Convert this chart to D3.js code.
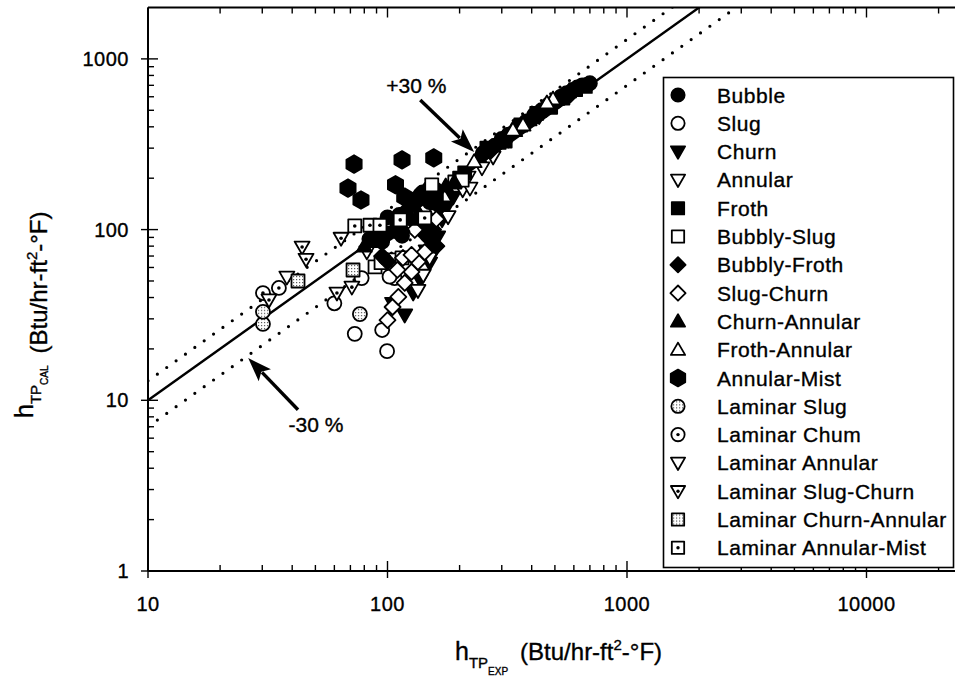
<!DOCTYPE html>
<html><head><meta charset="utf-8">
<script src="https://cdn.jsdelivr.net/npm/d3@7"></script>
<style>
body{margin:0;background:#fff}
svg{display:block}
text{font-family:"Liberation Sans",Arial,Helvetica,sans-serif;fill:#000;stroke:#000;stroke-width:0.35px}
</style>
</head><body>
<svg id="c" width="955" height="683"></svg>
<script>
// ---------- data ----------
const xTickValues = [10, 100, 1000, 10000];
const xTickLabels = ["10", "100", "1000", "10000"];
const yTickValues = [1, 10, 100, 1000];
const yTickLabels = ["1", "10", "100", "1000"];

const seriesNames = ["Bubble","Slug","Churn","Annular","Froth","Bubbly-Slug","Bubbly-Froth","Slug-Churn",
  "Churn-Annular","Froth-Annular","Annular-Mist","Laminar Slug","Laminar Chum","Laminar Annular",
  "Laminar Slug-Churn","Laminar Churn-Annular","Laminar Annular-Mist"];

const bubble = [[84,88],[92,92],[100,95],[108,98],[100,118],[112,122],[140,165],[150,175],[160,170],
  [95,85],[115,92],[137,160],[150,145],
  [250,280],[280,310],[300,340],[320,360],[350,400],[380,430],[410,470],[440,500],[470,540],[500,560],
  [530,600],[560,630],[590,650],[620,680],[650,700],[680,705],[700,720]];
const slug = [[73,24.5],[99.6,19.4],[95,25.8],[60,37],[107,52],[78,52],[102,53]];
const churn = [[105,37],[118,31.6],[128,42.5],[137,50.7],[150,63.7],[158,75.9],[162,90.5],[169,114],
  [177,136],[188,155],[145,75],[155,90],[320,335],[430,460],[550,600]];
const annular = [[141,54],[150,68],[161,122],[179,119],[206,171],[217,203],[221,175],[248,230],[276,266],
  [82,74],[134,44]];
const froth = [[110,108],[120,120],[160,155],[200,200],[210,215],[125,140],[260,300],[310,330],[360,410],[420,480],
  [480,520],[540,590],[610,660],[670,690]];
const bubblySlug = [[88.7,60.4],[104,66.4],[115,68.2],[153,183],[191,190],[205,195],[94,64]];
const bubblyFroth = [[95,70],[100,65],[142,95],[150,88],[155,100],[160,80],[145,105],[130,110],
  [120,130],[135,150],[165,135],
  [270,290],[330,370],[400,450],[460,510],[520,580],[580,620]];
const slugChurn = [[100,29.5],[105,35.2],[111,40.3],[118,48.7],[126,56.5],[134,64.6],[143,73.9],
  [130,99.5],[116,68.2],[126,71],[110,58],[160,115]];
const churnAnnular = [[80,80],[90,85],[105,100],[115,105],[125,115],[135,125],[175,180],[190,190],
  [240,270],[290,320],[340,380],[390,440],[450,520],[510,580],[570,640],[640,690]];
const frothAnnular = [[491,582],[463,552],[368,410],[334,383],[230,250]];
const annularMist = [[72.5,242],[115,256],[156,263],[68.4,175],[77.5,149],[108,183],[118,155]];
const laminarSlug = [[30.2,28],[30.2,33],[76.7,32]];
const laminarChurn = [[30.2,42.5],[35.2,45.5]];
const laminarAnnular = [[38,52.7]];
const laminarSlugChurn = [[32,38.7],[44,79],[45.7,67],[64,89],[61.5,42.5],[71,46]];
const laminarChurnAnnular = [[42.3,50],[71.8,58]];
const laminarAnnularMist = [[73,105],[84.5,106],[93,106],[113,114],[143,117]];

const seriesData = [bubble, slug, churn, annular, froth, bubblySlug, bubblyFroth, slugChurn,
  churnAnnular, frothAnnular, annularMist, laminarSlug, laminarChurn, laminarAnnular,
  laminarSlugChurn, laminarChurnAnnular, laminarAnnularMist];

// annotation anchor points (data units)
const plusArrow = {from:[137,575], to:[230,285], label:"+30 %", at:[132,631]};
const minusArrow = {from:[42.3,8.8], to:[26.2,17.7], label:"-30 %", at:[50.3,6.5]};

// ---------- styles per series ----------
const symbolStyle = [
  {shape:"circle", fill:"#000"}, {shape:"circle", fill:"#fff"},
  {shape:"triDown", fill:"#000"}, {shape:"triDown", fill:"#fff"},
  {shape:"square", fill:"#000"}, {shape:"square", fill:"#fff"},
  {shape:"diamond", fill:"#000"}, {shape:"diamond", fill:"#fff"},
  {shape:"triUp", fill:"#000"}, {shape:"triUp", fill:"#fff"},
  {shape:"hex", fill:"#000"},
  {shape:"circle", fill:"url(#dots)"}, {shape:"circle", fill:"#fff", dot:true},
  {shape:"triDown", fill:"#fff"}, {shape:"triDown", fill:"#fff", dot:true},
  {shape:"square", fill:"url(#dots)"}, {shape:"square", fill:"#fff", dot:true}
];

function shapePath(t, s){
  switch(t){
    case "circle": return `M${-7*s},0a${7*s},${7*s} 0 1,0 ${14*s},0a${7*s},${7*s} 0 1,0 ${-14*s},0Z`;
    case "triDown": return `M${-7.5*s},${-5.5*s}L${7.5*s},${-5.5*s}L0,${7.5*s}Z`;
    case "triUp": return `M${-7.5*s},${5.5*s}L${7.5*s},${5.5*s}L0,${-7.5*s}Z`;
    case "square": return `M${-6.5*s},${-6.5*s}h${13*s}v${13*s}h${-13*s}Z`;
    case "diamond": return `M0,${-8*s}L${8*s},0L0,${8*s}L${-8*s},0Z`;
    case "hex": {
      const r = 8.8*s; let p = "";
      for(let k=0;k<6;k++){const a=(-90+60*k)*Math.PI/180; p += (k?"L":"M")+(r*Math.cos(a)).toFixed(2)+","+(r*Math.sin(a)).toFixed(2);}
      return p+"Z";
    }
  }
}

// ---------- layout ----------
const svg = d3.select("#c");
const x = d3.scaleLog().domain([10, 25000]).range([148, 961.8]);
const y = d3.scaleLog().domain([1, 2000]).range([571, 7.5]);
const topY = y.range()[1];

const defs = svg.append("defs");
const pat = defs.append("pattern").attr("id","dots").attr("width",3).attr("height",3).attr("patternUnits","userSpaceOnUse");
pat.append("rect").attr("width",3).attr("height",3).attr("fill","#fff");
pat.append("rect").attr("x",1).attr("y",1).attr("width",1.2).attr("height",1.2).attr("fill","#555");
defs.append("clipPath").attr("id","clip").append("rect")
  .attr("x",148).attr("y",topY).attr("width",x.range()[1]-148).attr("height",571-topY);

// reference lines
const lineGen = d3.line().x(d=>x(d[0])).y(d=>y(d[1]));
const gl = svg.append("g").attr("clip-path","url(#clip)");
const xs = [10, 3000];
gl.append("path").attr("d", lineGen(xs.map(v=>[v,v]))).attr("fill","none").attr("stroke","#000").attr("stroke-width",2.4);
[1.3, 0.7].forEach(f=>{
  gl.append("path").attr("d", lineGen(xs.map(v=>[v,v*f]))).attr("fill","none").attr("stroke","#000")
    .attr("stroke-width",3.2).attr("stroke-linecap","round").attr("stroke-dasharray","0 11.5");
});

// axes frame
svg.append("line").attr("x1",148).attr("x2",148).attr("y1",571).attr("y2",topY).attr("stroke","#000").attr("stroke-width",2);
svg.append("line").attr("x1",148).attr("x2",955).attr("y1",571).attr("y2",571).attr("stroke","#000").attr("stroke-width",2);
svg.append("line").attr("x1",148).attr("x2",955).attr("y1",topY).attr("y2",topY).attr("stroke","#000").attr("stroke-width",2);

function minorTicks(dom){
  const out=[]; let d = Math.pow(10, Math.floor(Math.log10(dom[0])));
  for(; d<dom[1]; d*=10){ for(let m=2;m<=9;m++){ const v=m*d; if(v>dom[0]&&v<dom[1]) out.push(v);} }
  return out;
}
const tg = svg.append("g").attr("stroke","#000").attr("stroke-width",1.4);
yTickValues.forEach(v=>tg.append("line").attr("x1",141).attr("x2",158).attr("y1",y(v)).attr("y2",y(v)));
minorTicks(y.domain()).forEach(v=>tg.append("line").attr("x1",148).attr("x2",154).attr("y1",y(v)).attr("y2",y(v)));
xTickValues.forEach(v=>{
  tg.append("line").attr("x1",x(v)).attr("x2",x(v)).attr("y1",561).attr("y2",578);
  tg.append("line").attr("x1",x(v)).attr("x2",x(v)).attr("y1",topY).attr("y2",topY+10);
});
minorTicks(x.domain()).forEach(v=>{
  tg.append("line").attr("x1",x(v)).attr("x2",x(v)).attr("y1",571).attr("y2",565);
  tg.append("line").attr("x1",x(v)).attr("x2",x(v)).attr("y1",topY).attr("y2",topY+6);
});

// tick labels
svg.append("g").selectAll("text").data(yTickValues).join("text")
  .attr("x",129).attr("y",d=>y(d)).attr("dy","0.36em").attr("text-anchor","end")
  .attr("font-size",20).attr("letter-spacing",0.5).text((d,i)=>yTickLabels[i]);
svg.append("g").selectAll("text").data(xTickValues).join("text")
  .attr("x",d=>x(d)).attr("y",611).attr("text-anchor","middle")
  .attr("font-size",20).attr("letter-spacing",0.5).text((d,i)=>xTickLabels[i]);

// axis titles
function title(sel, sub1, sub2, shift){
  sel.append("tspan").attr("font-size",25).text("h");
  sel.append("tspan").attr("font-size",15).attr("dy",8).text(sub1);
  sel.append("tspan").attr("font-size",10).attr("dy",7).text(sub2);
  sel.append("tspan").attr("font-size",24).attr("dy",-15+shift).attr("dx",12).text("(Btu/hr-ft");
  sel.append("tspan").attr("font-size",15).attr("dy",-10).text("2");
  sel.append("tspan").attr("font-size",24).attr("dy",10).text("-°F)");
}
title(svg.append("text").attr("x",455).attr("y",660).attr("text-anchor","start"), "TP", "EXP", 0);
title(svg.append("text").attr("transform","translate(33,418) rotate(-90)").attr("text-anchor","start"), "TP", "CAL", 14);

// data markers
const mg = svg.append("g").attr("clip-path","url(#clip)");
function drawSym(g, st, s){
  g.append("path").attr("d", shapePath(st.shape, s)).attr("fill", st.fill)
    .attr("stroke","#000").attr("stroke-width",1.8).attr("stroke-linejoin","round");
  if(st.dot) g.append("circle").attr("r",1.8*s).attr("fill","#000");
}
seriesData.forEach((arr,i)=>{
  const st = symbolStyle[i];
  mg.append("g").selectAll("g").data(arr).join("g")
    .attr("transform",d=>`translate(${x(d[0])},${y(d[1])})`)
    .each(function(){ drawSym(d3.select(this), st, 1); });
});

// annotations
function arrow(a){
  const x0=x(a.from[0]), y0=y(a.from[1]), x1=x(a.to[0]), y1=y(a.to[1]);
  const L=Math.hypot(x1-x0,y1-y0), ux=(x1-x0)/L, uy=(y1-y0)/L, px=-uy, py=ux;
  const hl=24, hw=8.5;
  const bx=x1-ux*hl, by=y1-uy*hl;
  svg.append("line").attr("x1",x0).attr("y1",y0).attr("x2",bx+ux*4).attr("y2",by+uy*4).attr("stroke","#000").attr("stroke-width",3.4);
  svg.append("path").attr("d",`M${x1},${y1}L${bx+px*hw},${by+py*hw}L${bx+ux*5},${by+uy*5}L${bx-px*hw},${by-py*hw}Z`).attr("fill","#000");
  svg.append("text").attr("x",x(a.at[0])).attr("y",y(a.at[1])).attr("text-anchor","middle").attr("font-size",21).text(a.label);
}
arrow(plusArrow); arrow(minusArrow);

// legend
const lg = svg.append("g");
lg.append("rect").attr("x",663.5).attr("y",77.5).attr("width",290).attr("height",490)
  .attr("fill","#fff").attr("stroke","#000").attr("stroke-width",1.6);
seriesNames.forEach((n,i)=>{
  const yy = 95 + i*28.3;
  const g = lg.append("g").attr("transform",`translate(678,${yy})`);
  drawSym(g, symbolStyle[i], 0.95);
  lg.append("text").attr("x",717).attr("y",yy).attr("dy","0.36em").attr("font-size",21).attr("letter-spacing",0.55).text(n);
});
</script>
</body></html>
